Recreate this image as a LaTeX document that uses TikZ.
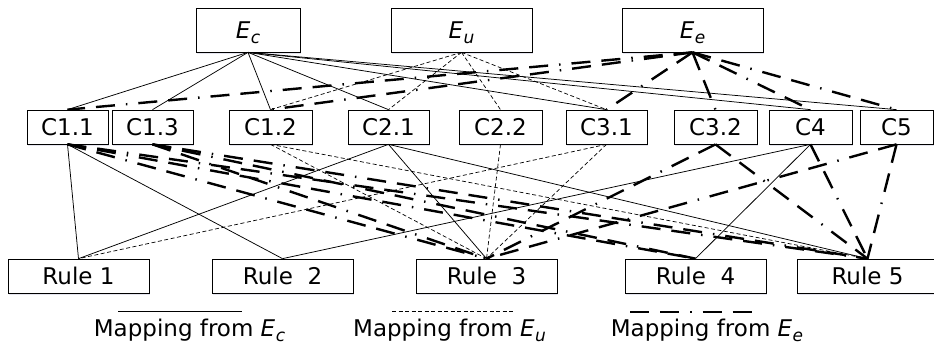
\documentclass[tikz,border=0pt]{standalone}
\usepackage{fontspec}
\setmainfont{DejaVu Sans}
\usetikzlibrary{shadows}

% italic E with an italic subscript letter
\newcommand{\Esub}[1]{\textit{E}\kern0.5pt\raisebox{-0.24em}{\fontsize{17}{17}\selectfont\textit{#1}}}

\tikzset{
  box/.style={draw=black, line width=0.7pt, fill=white, rectangle,
    minimum height=34pt, inner sep=0pt,
    font=\fontsize{23}{27}\selectfont, text height=16.8pt, text depth=0pt,
    drop shadow={shadow xshift=1pt, shadow yshift=-2pt, opacity=0.10, fill=blue!40!black}},
  topbox/.style={box, minimum height=44pt},
  legend/.style={inner sep=0pt, font=\fontsize{23}{27}\selectfont, anchor=base},
  mapc/.style={line width=0.75pt},
  mapu/.style={line width=0.7pt, dash pattern=on 4pt off 2.5pt},
  mape/.style={line width=2.4pt, dash pattern=on 19pt off 11pt on 19pt off 11pt on 1.5pt off 11pt},
}

\begin{document}
\begin{tikzpicture}[x=1pt,y=-1pt]
\useasboundingbox (0,0) rectangle (934,345);

% top level
\node[topbox, minimum width=104pt] (Ec) at (248,30)   {\Esub{c}};
\node[topbox, minimum width=141pt] (Eu) at (461.5,30) {\Esub{u}};
\node[topbox, minimum width=141pt] (Ee) at (692.5,30) {\Esub{e}};

% criteria
\node[box, minimum width=81pt] (c11) at (67.5,127)  {C1.1};
\node[box, minimum width=81pt] (c13) at (152.5,127) {C1.3};
\node[box, minimum width=83pt] (c12) at (270.5,127) {C1.2};
\node[box, minimum width=81pt] (c21) at (388.5,127) {C2.1};
\node[box, minimum width=83pt] (c22) at (500.5,127) {C2.2};
\node[box, minimum width=81pt] (c31) at (606.5,127) {C3.1};
\node[box, minimum width=83pt] (c32) at (715.5,127) {C3.2};
\node[box, minimum width=83pt] (c4)  at (810.5,127) {C4};
\node[box, minimum width=73pt] (c5)  at (896.5,127) {C5};

% rules
\node[box, minimum width=141pt] (r1) at (78.5,276)  {Rule 1};
\node[box, minimum width=141pt] (r2) at (282.5,276) {Rule\ \ 2};
\node[box, minimum width=141pt] (r3) at (486.5,276) {Rule\ \ 3};
\node[box, minimum width=141pt] (r4) at (695.5,276) {Rule\ \ 4};
\node[box, minimum width=141pt] (r5) at (867.5,276) {Rule 5};

% mappings from E_c
\foreach \a/\b in {Ec/c11, Ec/c13, Ec/c12, Ec/c21, Ec/c31, Ec/c4, Ec/c5,
                   c11/r1, c11/r2, c21/r1, c21/r3, c21/r5, c4/r2, c4/r4}
  \draw[mapc] (\a.south) -- (\b.north);

% mappings from E_u
\foreach \a/\b in {Eu/c12, Eu/c21, Eu/c22, Eu/c31,
                   c12/r3, c12/r5, c22/r3, c31/r1, c31/r3}
  \draw[mapu] (\a.south) -- (\b.north);

% mappings from E_e
\foreach \a/\b in {Ee/c11, Ee/c12, Ee/c31, Ee/c32, Ee/c4, Ee/c5,
                   c11/r3, c11/r4, c11/r5, c13/r3, c13/r4, c13/r5,
                   c32/r3, c32/r5, c4/r5, c5/r3, c5/r5}
  \draw[mape] (\a.south) -- (\b.north);

% legend
\coordinate (lc1) at (118,311);
\coordinate (lc2) at (242,311);
\coordinate (lu1) at (392,311);
\coordinate (lu2) at (514,311);
\coordinate (le1) at (630,312);
\coordinate (le2) at (756,312);
\draw[mapc] (lc1) -- (lc2);
\draw[mapu] (lu1) -- (lu2);
\draw[mape] (le1) -- (le2);
\node[legend] (tc) at (189.5,336) {Mapping from \Esub{c}};
\node[legend] (tu) at (449.5,336) {Mapping from \Esub{u}};
\node[legend] (te) at (707,336)   {Mapping from \Esub{e}};
\end{tikzpicture}
\end{document}
